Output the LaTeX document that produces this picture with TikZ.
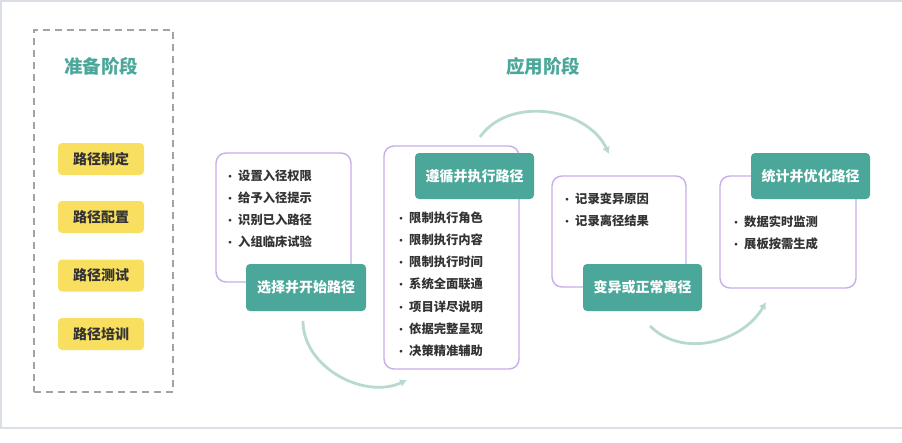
\documentclass[tikz,border=0pt]{standalone}
\usepackage{fontspec}
\setmainfont{Noto Sans CJK SC}
\usetikzlibrary{arrows.meta,calc}
\definecolor{teal1}{HTML}{4AA79A}
\definecolor{yel}{HTML}{F8DF5F}
\definecolor{purp}{HTML}{C8AEE8}
\definecolor{flowc}{HTML}{B7D9D2}
\definecolor{txt}{HTML}{333333}
\definecolor{framec}{HTML}{DADFE6}
\definecolor{dashc}{HTML}{A3A3A3}
\newcommand{\bitem}[1]{\hspace{3pt}\makebox[0pt][c]{\fontsize{10}{12}\selectfont •}\hspace{8pt}#1}
\tikzset{
  phase/.style={font=\fontsize{18.5}{20}\selectfont\bfseries, text=teal1, inner sep=0},
  prepitem/.style={fill=yel, rounded corners=4pt, minimum width=86pt, minimum height=32pt, inner sep=0,
     font=\fontsize{14}{16}\selectfont\bfseries, text=txt},
  card/.style={draw=purp, line width=1.4pt, rounded corners=10pt, inner sep=0, fill=white},
  head/.style={fill=teal1, rounded corners=4pt, inner sep=0, minimum width=119pt, minimum height=46pt,
     font=\fontsize{14}{16}\selectfont\bfseries, text=white},
  bul/.style={anchor=west, inner sep=0, font=\fontsize{12.3}{14}\selectfont\bfseries, text=txt},
  flow/.style={draw=flowc, line width=2.8pt, -{Latex[length=7pt,width=8pt]}},
}
\begin{document}
\begin{tikzpicture}[x=1pt,y=1pt]
\useasboundingbox (0,0) rectangle (902,-442);
% frame
\draw[framec, line width=1.2pt] (0,-1) -- (902,-1);
\draw[framec, line width=1.2pt] (1,-1) -- (1,-428);
\draw[framec, line width=1.2pt] (0,-428) -- (902,-428);
% preparation phase
\node[draw=dashc, dashed, dash pattern=on 7pt off 5pt, line width=1.4pt, minimum width=139pt, minimum height=362pt, inner sep=0]
  (prepbox) at (103.5,-211) {};
\node[phase] (preptitle) at (101,-66) {准备阶段};
\node[prepitem] (p1) at (101,-159) {路径制定};
\node[prepitem] (p2) at (101,-217) {路径配置};
\node[prepitem] (p3) at (101,-275.5) {路径测试};
\node[prepitem] (p4) at (101,-334) {路径培训};
% application phase
\node[phase] (apptitle) at (543,-66) {应用阶段};
% card 1
\node[card, minimum width=135pt, minimum height=129pt] (c1) at (283.5,-217.5) {};
\node[head, minimum width=120pt, minimum height=47pt] (h1) at (306,-287.5) {选择并开始路径};
\node[bul] (b11) at (227,-176) {\bitem{设置入径权限}};
\node[bul] (b12) at (227,-198) {\bitem{给予入径提示}};
\node[bul] (b13) at (227,-220) {\bitem{识别已入路径}};
\node[bul] (b14) at (227,-242) {\bitem{入组临床试验}};
% card 2
\node[card, minimum width=135pt, minimum height=223pt] (c2) at (451.5,-257.5) {};
\node[head] (h2) at (474.5,-176) {遵循并执行路径};
\node[bul] (b21) at (398,-218) {\bitem{限制执行角色}};
\node[bul] (b22) at (398,-240) {\bitem{限制执行内容}};
\node[bul] (b23) at (398,-262) {\bitem{限制执行时间}};
\node[bul] (b24) at (398,-284) {\bitem{系统全面联通}};
\node[bul] (b25) at (398,-307) {\bitem{项目详尽说明}};
\node[bul] (b26) at (398,-329) {\bitem{依据完整呈现}};
\node[bul] (b27) at (398,-351) {\bitem{决策精准辅助}};
% card 3
\node[card, minimum width=134pt, minimum height=111pt] (c3) at (619,-231.5) {};
\node[head, minimum height=47pt] (h3) at (642.5,-287.5) {变异或正常离径};
\node[bul] (b31) at (564,-199) {\bitem{记录变异原因}};
\node[bul] (b32) at (564,-221) {\bitem{记录离径结果}};
% card 4
\node[card, minimum width=136pt, minimum height=112pt] (c4) at (788,-232) {};
\node[head] (h4) at (810.5,-176) {统计并优化路径};
\node[bul] (b41) at (733,-222) {\bitem{数据实时监测}};
\node[bul] (b42) at (733,-244) {\bitem{展板按需生成}};
% flow arrows
\coordinate (a1s) at (303,-321);
\coordinate (a1e) at (407,-380);
\coordinate (a2s) at (480,-137);
\coordinate (a2e) at (609,-154);
\coordinate (a3s) at (650,-326);
\coordinate (a3e) at (766,-302);
\draw[flow] (a1s) to[out=-90, in=205] (a1e);
\draw[flow] (a2s) to[out=55, in=115] (a2e);
\draw[flow] (a3s) to[out=-45, in=240] (a3e);
\end{tikzpicture}
\end{document}
